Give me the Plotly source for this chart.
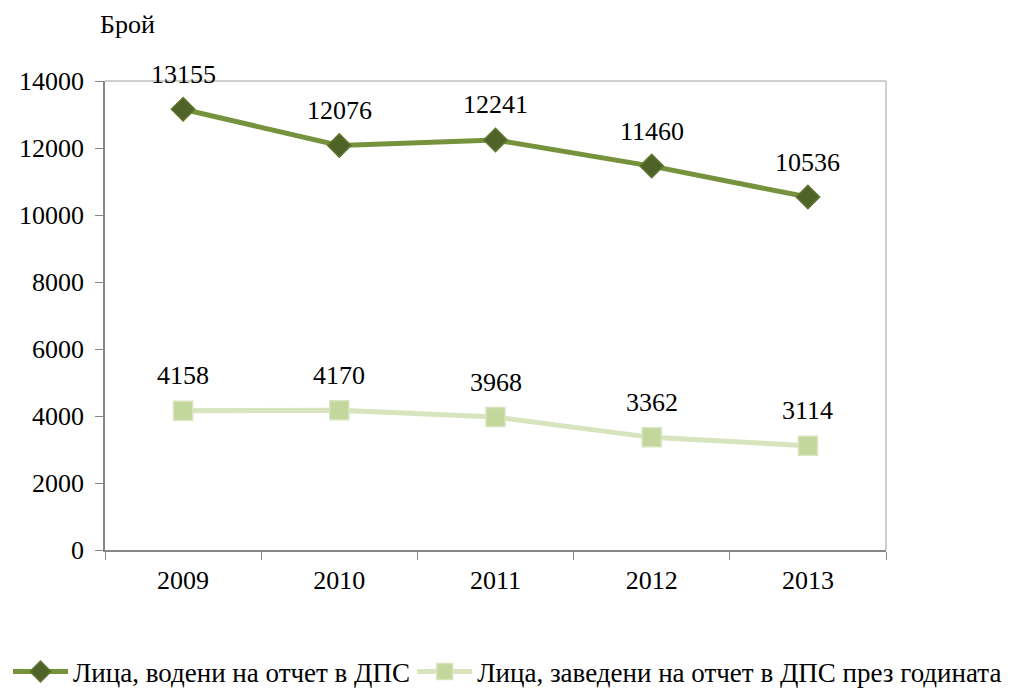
import plotly.graph_objects as go

years = ["2009", "2010", "2011", "2012", "2013"]
kept = [13155, 12076, 12241, 11460, 10536]
admitted = [4158, 4170, 3968, 3362, 3114]
name_kept = "Лица, водени на отчет в ДПС"
name_admitted = "Лица, заведени на отчет в ДПС през годината"
y_title = "Брой"

FONT = "Liberation Serif"
FS = 26

fig = go.Figure()
fig.add_trace(go.Scatter(
    x=years, y=kept, name=name_kept, mode="lines+markers", legend="legend",
    line=dict(color="#76923C", width=5),
    marker=dict(symbol="diamond", size=18, color="#4F6228", line=dict(color="#5F7530", width=1.5)),
))
fig.add_trace(go.Scatter(
    x=years, y=admitted, name=name_admitted, mode="lines+markers", legend="legend2",
    line=dict(color="#D7E4BD", width=5),
    marker=dict(symbol="square", size=19, color="#C3D69B", line=dict(color="#D7E4BD", width=1.5)),
))

for ys in (kept, admitted):
    for i, yv in enumerate(ys):
        fig.add_annotation(x=i, y=yv, xref="x", yref="y", text=str(yv), showarrow=False, yshift=35,
                           font=dict(family=FONT, size=FS, color="#000000"))

fig.add_annotation(x=0, y=1, xref="paper", yref="paper", text=y_title, showarrow=False,
                   xanchor="left", yanchor="bottom", xshift=-7, yshift=40,
                   font=dict(family=FONT, size=FS, color="#000000"))

fig.add_shape(type="line", xref="x domain", yref="y domain", x0=0, x1=1, y0=1, y1=1,
              line=dict(color="#BFBFBF", width=1.5), layer="below")
fig.add_shape(type="line", xref="x domain", yref="y domain", x0=1, x1=1, y0=0, y1=1,
              line=dict(color="#BFBFBF", width=1.5), layer="below")

legend_common = dict(orientation="h", xref="container", yref="container", xanchor="left",
                     y=0.0235, yanchor="middle", font=dict(family=FONT, size=27),
                     itemwidth=55, bgcolor="rgba(0,0,0,0)", borderwidth=0)

# the page body adds an 8px offset, so the figure is sized to fill the rest of the window
fig.update_layout(
    width=1003, height=680,
    margin=dict(l=97, r=125, t=73, b=138),
    paper_bgcolor="white", plot_bgcolor="white",
    font=dict(family=FONT, size=FS, color="#000000"),
    showlegend=True,
    legend=dict(x=0.0, **legend_common),
    legend2=dict(x=0.403, **legend_common),
    xaxis=dict(type="category", range=[-0.5, len(years) - 0.5], showgrid=False, showline=True,
               linecolor="#868686", linewidth=1.5,
               ticks="outside", tickson="boundaries", ticklen=8, tickcolor="#868686",
               tickfont=dict(family=FONT, size=FS), tickangle=0, zeroline=False,
               ticklabelstandoff=6),
    yaxis=dict(range=[0, 14000], dtick=2000, tickformat="d", showgrid=False, showline=True,
               linecolor="#868686",
               linewidth=1.5, ticks="outside", ticklen=8, tickcolor="#868686",
               tickfont=dict(family=FONT, size=FS), zeroline=False, ticklabelstandoff=6),
)

fig.write_html("out.html")
